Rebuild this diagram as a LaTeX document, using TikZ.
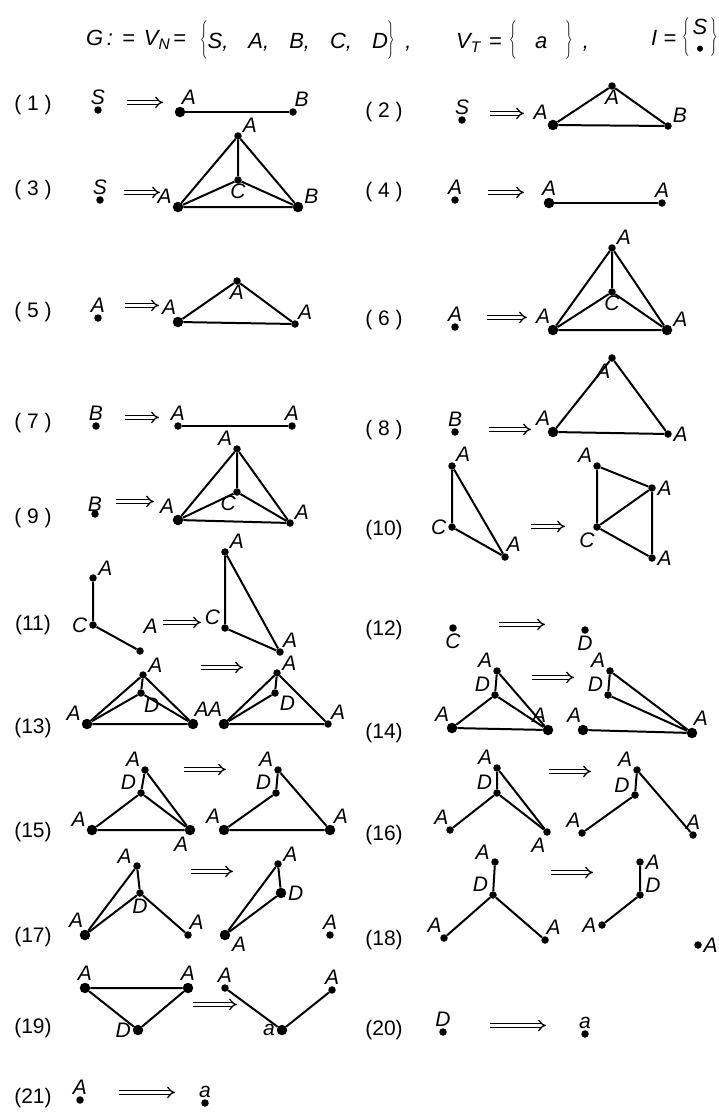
\documentclass[tikz,border=0pt]{standalone}
\usepackage{fontspec}
\usepackage{graphicx}
\setmainfont{Liberation Sans}
\usepackage{tikz}
\usetikzlibrary{positioning,arrows.meta}

\newcommand{\labfont}{\fontsize{21}{24}\selectfont}
\newcommand{\yields}[1]{\tikz[baseline=-0.6ex]\draw[line width=1.3pt, double distance=2.6pt, -{Implies}] (0pt,0pt) -- (#1,0pt);}
\newcommand{\lbr}{\scalebox{1}[1.6]{$\Biggl\{$}}
\newcommand{\rbr}{\scalebox{1}[1.6]{$\Biggr\}$}}

\begin{document}
\begin{tikzpicture}[
    x=1pt, y=-1pt,
    every node/.style={font=\labfont},
    every label/.style={font=\labfont\itshape, inner sep=0.5pt},
    label distance=1pt,
    vtx/.style={circle, fill, inner sep=0pt, minimum size=7.5pt},
    bigvtx/.style={vtx, minimum size=10.5pt},
    num/.style={font=\fontsize{21}{24}\selectfont},
    head/.style={font=\fontsize{22}{26}\selectfont\itshape, inner sep=0pt},
    edge/.style={line width=2pt}
]
\useasboundingbox (0,0) rectangle (719,1114);

% grammar
\node[head, anchor=west] (hdrg) at (86,40) {G\,:\hspace{9pt}=\hspace{9pt}V\textsubscript{N}\hspace{3pt}=};
\node[head, anchor=west] (hdrn) at (200,40) {\lbr S,\hspace{20pt}A,\hspace{20pt}B,\hspace{20pt}C,\hspace{20pt}D\rbr\hspace{10pt},};
\node[head, anchor=west] (hdrt) at (456,40) {V\textsubscript{T}\hspace{8pt}=\hspace{8pt}\lbr\hspace{18pt}a\hspace{18pt}\rbr\hspace{10pt},};
\node[head, anchor=east] (hdri) at (718,40) {I\hspace{6pt}=\hspace{6pt}\lbr\hspace{3pt}\begin{tabular}[c]{@{}c@{}}S\\[-4pt]\textbullet\end{tabular}\hspace{3pt}\rbr};

% (1)
\node[num] (n1) at (33,105) {(\;1\;)};
\node[vtx, label=90:S] (p1s) at (98,110) {};
\node (p1r) at (145,103) {\yields{36pt}};
\node[bigvtx, label=80:A] (p1a) at (180,112) {};
\node[vtx, label=80:B] (p1b) at (293,112) {};
\draw[edge] (p1a) -- (p1b);

% (2)
\node[num] (n2) at (384,112) {(\;2\;)};
\node[vtx, label=90:S] (p2s) at (462,120) {};
\node (p2r) at (507,114) {\yields{34pt}};
\node[bigvtx, label=135:A] (p2a) at (553,125) {};
\node[vtx, label={[label distance=-1pt]-90:A}] (p2t) at (612,86) {};
\node[vtx, label=30:B] (p2b) at (668,126) {};
\draw[edge] (p2a) -- (p2t) -- (p2b) -- (p2a);

% (3)
\node[num] (n3) at (33,190) {(\;3\;)};
\node[vtx, label=90:S] (p3s) at (100,200) {};
\node (p3r) at (142,193) {\yields{36pt}};
\node[bigvtx, label=150:A] (p3a) at (178,207) {};
\node[vtx, label=30:A] (p3t) at (238,136) {};
\node[vtx, label={[label distance=-1pt]-90:C}] (p3c) at (238,180) {};
\node[bigvtx, label=30:B] (p3b) at (298,207) {};
\draw[edge] (p3a) -- (p3t) -- (p3b) -- (p3a);
\draw[edge] (p3t) -- (p3c) (p3a) -- (p3c) -- (p3b);

% (4)
\node[num] (n4) at (384,192) {(\;4\;)};
\node[vtx, label=90:A] (p4s) at (455,200) {};
\node (p4r) at (506,193) {\yields{36pt}};
\node[bigvtx, label=90:A] (p4a) at (549,203) {};
\node[vtx, label=90:A] (p4b) at (662,203) {};
\draw[edge] (p4a) -- (p4b);

% (5)
\node[num] (n5) at (33,312) {(\;5\;)};
\node[vtx, label=90:A] (p5s) at (98,318) {};
\node (p5r) at (142,306) {\yields{34pt}};
\node[bigvtx, label=100:A] (p5a) at (178,322) {};
\node[vtx, label={[label distance=-1pt]-90:A}] (p5t) at (237,281) {};
\node[vtx, label=60:A] (p5b) at (295,324) {};
\draw[edge] (p5a) -- (p5t) -- (p5b) -- (p5a);

% (6)
\node[num] (n6) at (384,320) {(\;6\;)};
\node[vtx, label=90:A] (p6s) at (455,327) {};
\node (p6r) at (507,318) {\yields{40pt}};
\node[bigvtx, label=110:A] (p6a) at (553,330) {};
\node[vtx, label=30:A] (p6t) at (612,248) {};
\node[vtx, label={[label distance=-1pt]-90:C}] (p6c) at (612,292) {};
\node[bigvtx, label=30:A] (p6b) at (667,330) {};
\draw[edge] (p6a) -- (p6t) -- (p6b) -- (p6a);
\draw[edge] (p6t) -- (p6c) (p6a) -- (p6c) -- (p6b);

% (7)
\node[num] (n7) at (33,423) {(\;7\;)};
\node[vtx, label=90:B] (p7s) at (96,426) {};
\node (p7r) at (142,418) {\yields{34pt}};
\node[vtx, label=90:A] (p7a) at (178,426) {};
\node[vtx, label=90:A] (p7b) at (292,426) {};
\draw[edge] (p7a) -- (p7b);

% (8)
\node[num] (n8) at (384,430) {(\;8\;)};
\node[vtx, label=90:B] (p8s) at (455,432) {};
\node (p8r) at (510,430) {\yields{42pt}};
\node[bigvtx, label=110:A] (p8a) at (553,432) {};
\node[vtx, label=-100:A] (p8t) at (612,358) {};
\node[vtx, label=0:A] (p8b) at (668,434) {};
\draw[edge] (p8a) -- (p8t) -- (p8b) -- (p8a);

% (9)
\node[num] (n9) at (33,518) {(\;9\;)};
\node[vtx, label={[label distance=-2pt]90:B}] (p9s) at (95,514) {};
\node (p9r) at (135,502) {\yields{38pt}};
\node[bigvtx, label=120:A] (p9a) at (178,520) {};
\node[vtx, label=150:A] (p9t) at (237,449) {};
\node[vtx, label={[label distance=-1pt]-100:C}] (p9c) at (237,492) {};
\node[vtx, label=30:A] (p9b) at (290,523) {};
\draw[edge] (p9a) -- (p9t) -- (p9b) -- (p9a);
\draw[edge] (p9t) -- (p9c) (p9a) -- (p9c) -- (p9b);

% (10)
\node[num] (n10) at (384,530) {(10)};
\node[vtx, label=45:A] (p10a) at (452,466) {};
\node[vtx, label=180:C] (p10c) at (452,527) {};
\node[vtx, label=80:A] (p10b) at (505,557) {};
\node (p10r) at (548,527) {\yields{34pt}};
\node[vtx, label=150:A] (p10e) at (597,466) {};
\node[vtx, label=0:A] (p10f) at (652,488) {};
\node[vtx, label=-110:C] (p10g) at (597,527) {};
\node[vtx, label=0:A] (p10h) at (652,558) {};
\draw[edge] (p10a) -- (p10c) -- (p10b) -- (p10a);
\draw[edge] (p10e) -- (p10f) -- (p10h) -- (p10g) -- (p10e) (p10g) -- (p10f);

% (11)
\node[num] (n11) at (33,625) {(11)};
\node[vtx, label=20:A] (p11a) at (93,578) {};
\node[vtx, label=180:C] (p11c) at (93,625) {};
\node[vtx, label={[label distance=13pt]80:A}] (p11b) at (140,651) {};
\node (p11r) at (182,623) {\yields{38pt}};
\node[vtx, label=30:A] (p11e) at (225,552) {};
\node[vtx, label=150:C] (p11f) at (225,628) {};
\node[vtx, label=60:A] (p11g) at (280,652) {};
\draw[edge] (p11a) -- (p11c) -- (p11b);
\draw[edge] (p11e) -- (p11f) -- (p11g) -- (p11e);

% (12)
\node[num] (n12) at (384,630) {(12)};
\node[vtx, label=-90:C] (p12c) at (453,628) {};
\node (p12r) at (522,625) {\yields{46pt}};
\node[vtx, label=-90:D] (p12d) at (585,630) {};

% (13)
\node[num] (n13) at (33,728) {(13)};
\node[vtx, label=20:A] (p13t) at (143,675) {};
\node[vtx, label=-60:D] (p13d) at (141,693) {};
\node[bigvtx, label=150:A] (p13a) at (87,724) {};
\node[bigvtx, label=82:A] (p13b) at (193,724) {};
\node (p13r) at (222,668) {\yields{42pt}};
\node[vtx, label=20:A] (p13u) at (277,673) {};
\node[vtx, label=-30:D] (p13v) at (275,693) {};
\node[bigvtx, label=100:A] (p13w) at (224,724) {};
\node[vtx, label=60:A] (p13x) at (328,724) {};
\draw[edge] (p13a) -- (p13t) -- (p13b) -- (p13a);
\draw[edge] (p13t) -- (p13d) (p13a) -- (p13d) -- (p13b);
\draw[edge] (p13w) -- (p13u) -- (p13x) -- (p13w);
\draw[edge] (p13u) -- (p13v) -- (p13w);

% (14)
\node[num] (n14) at (384,733) {(14)};
\node[vtx, label=150:A] (p14t) at (497,671) {};
\node[vtx, label=150:D] (p14d) at (495,695) {};
\node[bigvtx, label=110:A] (p14a) at (452,728) {};
\node[bigvtx, label=100:A] (p14b) at (548,730) {};
\node (p14r) at (553,678) {\yields{42pt}};
\node[vtx, label=150:A] (p14u) at (610,671) {};
\node[vtx, label=150:D] (p14v) at (608,695) {};
\node[bigvtx, label=100:A] (p14w) at (583,730) {};
\node[bigvtx, label=80:A] (p14x) at (692,733) {};
\draw[edge] (p14t) -- (p14d) (p14t) -- (p14b);
\draw[edge] (p14a) -- (p14d) -- (p14b) -- (p14a);
\draw[edge] (p14u) -- (p14v) -- (p14x) -- (p14u);
\draw[edge] (p14w) -- (p14x);

% (15)
\node[num] (n15) at (33,832) {(15)};
\node[vtx, label=150:A] (p15t) at (145,770) {};
\node[vtx, label=150:D] (p15d) at (141,793) {};
\node[bigvtx, label=150:A] (p15a) at (92,830) {};
\node[bigvtx, label=-100:A] (p15b) at (190,830) {};
\node (p15r) at (205,770) {\yields{42pt}};
\node[vtx, label=150:A] (p15u) at (278,770) {};
\node[vtx, label=150:D] (p15v) at (276,793) {};
\node[bigvtx, label=120:A] (p15w) at (224,830) {};
\node[bigvtx, label=60:A] (p15x) at (330,830) {};
\draw[edge] (p15t) -- (p15d) (p15t) -- (p15b);
\draw[edge] (p15a) -- (p15d) -- (p15b) -- (p15a);
\draw[edge] (p15u) -- (p15v) -- (p15w) -- (p15x) -- (p15u);

% (16)
\node[num] (n16) at (384,835) {(16)};
\node[vtx, label=150:A] (p16t) at (497,768) {};
\node[vtx, label=150:D] (p16d) at (497,793) {};
\node[vtx, label=100:A] (p16a) at (450,830) {};
\node[vtx, label=-100:A] (p16b) at (547,832) {};
\node (p16r) at (570,772) {\yields{42pt}};
\node[vtx, label=150:A] (p16u) at (637,770) {};
\node[vtx, label=160:D] (p16v) at (635,795) {};
\node[vtx, label=100:A] (p16w) at (582,833) {};
\node[vtx, label=90:A] (p16x) at (693,835) {};
\draw[edge] (p16t) -- (p16d) (p16t) -- (p16b);
\draw[edge] (p16a) -- (p16d) -- (p16b);
\draw[edge] (p16u) -- (p16v) -- (p16w) (p16u) -- (p16x);

% (17)
\node[num] (n17) at (33,937) {(17)};
\node[vtx, label=160:A] (p17t) at (137,866) {};
\node[vtx, label=-90:D] (p17d) at (140,893) {};
\node[bigvtx, label=100:A] (p17a) at (85,935) {};
\node[vtx, label=80:A] (p17b) at (188,935) {};
\node (p17r) at (212,872) {\yields{42pt}};
\node[vtx, label=20:A] (p17u) at (278,864) {};
\node[bigvtx, label=0:D] (p17v) at (281,893) {};
\node[bigvtx, label=-10:A] (p17w) at (225,935) {};
\node[vtx, label=90:A] (p17x) at (330,935) {};
\draw[edge] (p17t) -- (p17a) (p17t) -- (p17d);
\draw[edge] (p17a) -- (p17d) -- (p17b);
\draw[edge] (p17u) -- (p17w) (p17u) -- (p17v) -- (p17w);

% (18)
\node[num] (n18) at (384,940) {(18)};
\node[vtx, label=160:A] (p18t) at (495,862) {};
\node[vtx, label=150:D] (p18d) at (493,895) {};
\node[vtx, label=110:A] (p18a) at (444,938) {};
\node[vtx, label=80:A] (p18b) at (545,940) {};
\node (p18r) at (572,873) {\yields{42pt}};
\node[vtx, label=0:A] (p18u) at (640,862) {};
\node[vtx, label=20:D] (p18v) at (640,895) {};
\node[vtx, label=180:A] (p18w) at (602,925) {};
\node[vtx, label=0:A] (p18x) at (698,945) {};
\draw[edge] (p18t) -- (p18d) (p18a) -- (p18d) -- (p18b);
\draw[edge] (p18u) -- (p18v) -- (p18w);

% (19)
\node[num] (n19) at (33,1028) {(19)};
\node[bigvtx, label=90:A] (p19a) at (85,988) {};
\node[bigvtx, label=90:A] (p19b) at (188,988) {};
\node[bigvtx, label=180:D] (p19d) at (138,1030) {};
\node (p19r) at (215,1005) {\yields{44pt}};
\node[vtx, label=90:A] (p19u) at (225,988) {};
\node[vtx, label=90:A] (p19w) at (332,990) {};
\node[bigvtx, label=180:a] (p19v) at (282,1030) {};
\draw[edge] (p19a) -- (p19b) -- (p19d) -- (p19a);
\draw[edge] (p19u) -- (p19v) -- (p19w);

% (20)
\node[num] (n20) at (384,1030) {(20)};
\node[vtx, label=90:D] (p20d) at (443,1032) {};
\node (p20r) at (518,1026) {\yields{56pt}};
\node[vtx, label=90:a] (p20a) at (585,1034) {};

% (21)
\node[num] (n21) at (33,1098) {(21)};
\node[vtx, label=90:A] (p21s) at (80,1100) {};
\node (p21r) at (147,1093) {\yields{56pt}};
\node[vtx, label=90:a] (p21a) at (205,1103) {};
\end{tikzpicture}
\end{document}
